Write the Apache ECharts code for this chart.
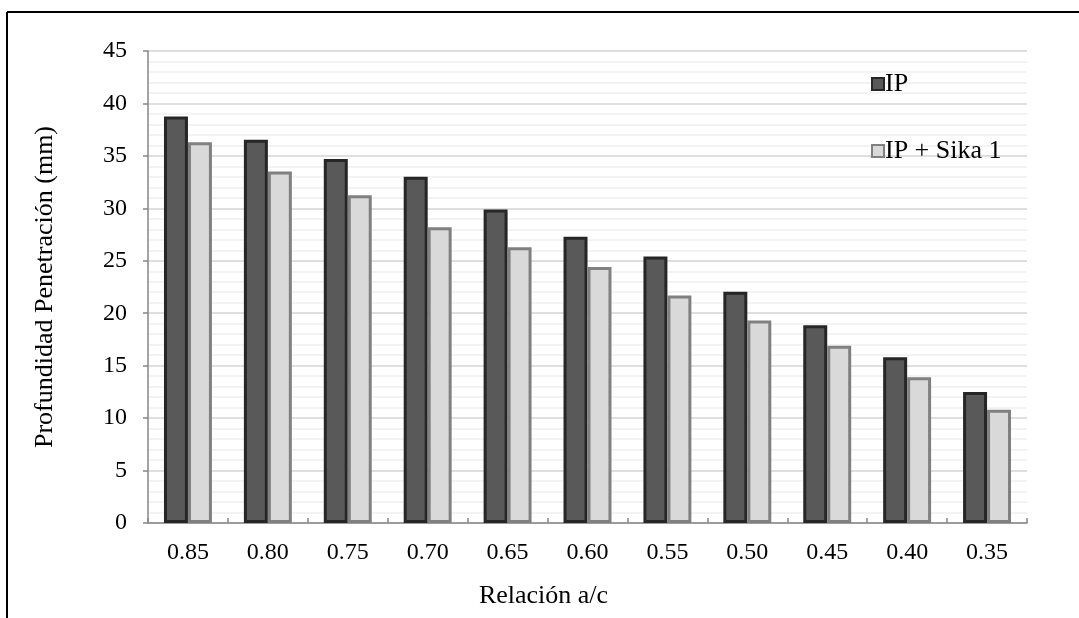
<!DOCTYPE html>
<html>
<head>
<meta charset="utf-8">
<script src="https://cdn.jsdelivr.net/npm/echarts@6/dist/echarts.min.js"></script>
<style>
html,body{margin:0;padding:0;background:#fff;}
#c{width:1079px;height:618px;}
</style>
</head>
<body>
<div id="c"></div>
<script>
var categories = ['0.85','0.80','0.75','0.70','0.65','0.60','0.55','0.50','0.45','0.40','0.35'];
var ipValues = [38.75, 36.55, 34.7, 33.0, 29.9, 27.3, 25.4, 22.05, 18.85, 15.8, 12.5];
var sikaValues = [36.3, 33.5, 31.25, 28.2, 26.3, 24.4, 21.7, 19.3, 16.9, 13.9, 10.8];
var seriesNames = ['IP', 'IP + Sika 1'];
var yTitle = 'Profundidad Penetración (mm)';
var xTitle = 'Relación a/c';

var font = 'Liberation Serif';
var chart = echarts.init(document.getElementById('c'), null, {renderer: 'canvas'});
chart.setOption({
  animation: false,
  backgroundColor: '#ffffff',
  textStyle: {fontFamily: font, color: '#000'},
  grid: {left: 148, right: 52, top: 51, bottom: 95, containLabel: false},
  graphic: [
    {type: 'line', shape: {x1: 7, y1: 12, x2: 1079, y2: 12}, style: {stroke: '#000', lineWidth: 2}},
    {type: 'line', shape: {x1: 7, y1: 12, x2: 7, y2: 618}, style: {stroke: '#000', lineWidth: 2}}
  ],
  legend: {
    orient: 'vertical',
    left: 866,
    top: 66,
    itemGap: 41,
    itemWidth: 12,
    itemHeight: 12,
    icon: 'rect',
    textStyle: {fontFamily: font, fontSize: 26, color: '#000', padding: [0,0,0,-4]},
    data: seriesNames
  },
  xAxis: {
    type: 'category',
    data: categories,
    name: xTitle,
    nameLocation: 'middle',
    nameGap: 60,
    nameTextStyle: {fontFamily: font, fontSize: 26, color: '#000', verticalAlign: 'top', padding: [0, 88, 0, 0]},
    axisLine: {lineStyle: {color: '#868686', width: 1.5}},
    axisTick: {show: true, inside: true, length: 5, alignWithLabel: false, lineStyle: {color: '#868686', width: 1.5}},
    axisLabel: {fontFamily: font, fontSize: 24, color: '#000', margin: 18},
    splitLine: {show: false}
  },
  yAxis: {
    type: 'value',
    min: 0,
    max: 45,
    interval: 5,
    name: yTitle,
    nameLocation: 'middle',
    nameGap: 90,
    nameTextStyle: {fontFamily: font, fontSize: 26, color: '#000'},
    axisLine: {show: true, lineStyle: {color: '#868686', width: 1.5}},
    axisTick: {show: true, inside: false, length: 5, lineStyle: {color: '#868686', width: 1.5}},
    axisLabel: {fontFamily: font, fontSize: 24, color: '#000', margin: 21},
    splitLine: {show: true, lineStyle: {color: '#d4d4d4', width: 1.5}},
    minorTick: {show: false, splitNumber: 5},
    minorSplitLine: {show: true, lineStyle: {color: '#efefef', width: 1.5}}
  },
  series: [
    {
      name: seriesNames[0],
      type: 'bar',
      data: ipValues,
      barGap: '0%',
      barCategoryGap: '40%',
      itemStyle: {color: '#595959', borderColor: '#262626', borderWidth: 3}
    },
    {
      name: seriesNames[1],
      type: 'bar',
      data: sikaValues,
      itemStyle: {color: '#d9d9d9', borderColor: '#808080', borderWidth: 3}
    }
  ]
});
</script>
</body>
</html>
